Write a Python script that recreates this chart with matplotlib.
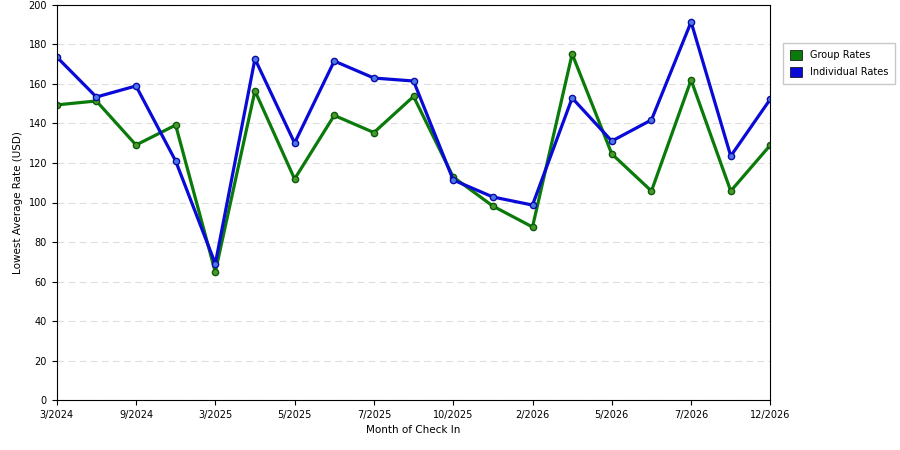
import matplotlib
matplotlib.use("Agg")
import matplotlib.pyplot as plt

tick_labels = ["3/2024","9/2024","3/2025","5/2025","7/2025","10/2025","2/2026","5/2026","7/2026","12/2026"]
group_rates = [149.4,151.4,129.1,139.2,64.8,156.5,111.9,144.1,135.4,153.7,112.9,98.2,87.6,175.2,124.6,105.8,162.0,105.8,129.1]
indiv_rates = [173.7,153.4,159.0,121.0,69.0,172.7,130.1,171.6,163.0,161.5,111.4,102.8,98.7,152.9,131.1,141.8,191.4,123.5,152.4]
x = list(range(len(group_rates)))

fig = plt.figure(figsize=(9,4.5), dpi=100)
ax = fig.add_axes([0.063, 0.111, 0.793, 0.878])
ax.plot(x, group_rates, color="#0a7a0a", lw=2.3, marker="o", ms=4.5, mfc="#4a9a2a", mec="#0a5a0a", label="Group Rates")
ax.plot(x, indiv_rates, color="#0a0ad8", lw=2.3, marker="o", ms=4.5, mfc="#4a7ae8", mec="#0a0aa8", label="Individual Rates")
ax.set_xlim(0, 18)
ax.set_ylim(0, 200)
ax.set_yticks(range(0, 201, 20))
ax.set_xticks(range(0, 19, 2))
ax.set_xticklabels(tick_labels)
ax.tick_params(labelsize=7)
ax.yaxis.grid(True, ls=(0,(6,4)), color="#dddddd", lw=0.8)
ax.set_axisbelow(True)
ax.set_xlabel("Month of Check In", fontsize=7.5)
ax.set_ylabel("Lowest Average Rate (USD)", fontsize=7.5)
h = [plt.Rectangle((0,0),1,1,fc="#0a7a0a",ec="black",lw=0.5), plt.Rectangle((0,0),1,1,fc="#0a0ad8",ec="black",lw=0.5)]
fig.legend(h, ["Group Rates","Individual Rates"], loc="upper left", bbox_to_anchor=(0.865, 0.915),
           fontsize=7, frameon=True, edgecolor="#bbbbbb", fancybox=False, handlelength=1.2, handleheight=1.2,
           labelspacing=0.7, borderpad=0.7)
fig.savefig("out.png", dpi=100)
